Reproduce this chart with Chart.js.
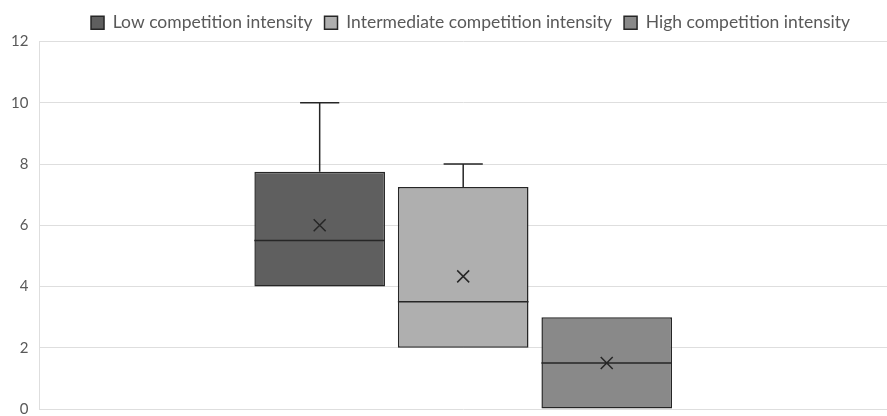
<!DOCTYPE html>
<html>
<head>
<meta charset="UTF-8">
<script src="https://cdn.jsdelivr.net/npm/chart.js@4.4.7/dist/chart.umd.min.js"></script>
<style>
*{margin:0;padding:0;box-sizing:border-box}
html,body{width:887px;height:416px;background:#fff;overflow:hidden}
.wrap{position:relative;width:887px;height:429px}
</style>
</head>
<body>
<div class="wrap"><canvas id="ch"></canvas></div>
<script>
// box plot stats: min, q1, median, q3, max, mean
const seriesNames = ['Low competition intensity', 'Intermediate competition intensity', 'High competition intensity'];
const lowStats = [4, 4, 5.5, 7.75, 10, 6];
const midStats = [2, 2, 3.5, 7.25, 8, 4.33];
const highStats = [0, 0, 1.5, 3, 3, 1.5];
const yTicks = [0, 2, 4, 6, 8, 10, 12];

const allStats = [lowStats, midStats, highStats];
const fills = ['#5f5f5f', '#afafaf', '#898989'];

const boxPlugin = {
  id: 'boxParts',
  afterLayout(chart) {
    // legend sits a little right of centre in the original
    chart.legend.left += 27;
    chart.legend.right += 27;
  },
  afterDatasetsDraw(chart) {
    const ctx = chart.ctx;
    const y = chart.scales.y;
    ctx.save();
    ctx.strokeStyle = '#262626';
    ctx.lineWidth = 1.5;
    chart.data.datasets.forEach(function(ds, i) {
      const bar = chart.getDatasetMeta(i).data[0];
      const p = bar.getProps(['x', 'width'], true);
      const s = allStats[i];
      const cx = p.x, half = p.width / 2, cap = p.width * 0.15;
      ctx.beginPath();
      // upper whisker
      if (s[4] > s[3]) {
        ctx.moveTo(cx, y.getPixelForValue(s[3]));
        ctx.lineTo(cx, y.getPixelForValue(s[4]));
        ctx.moveTo(cx - cap, y.getPixelForValue(s[4]));
        ctx.lineTo(cx + cap, y.getPixelForValue(s[4]));
      }
      // lower whisker
      if (s[0] < s[1]) {
        ctx.moveTo(cx, y.getPixelForValue(s[1]));
        ctx.lineTo(cx, y.getPixelForValue(s[0]));
        ctx.moveTo(cx - cap, y.getPixelForValue(s[0]));
        ctx.lineTo(cx + cap, y.getPixelForValue(s[0]));
      }
      // median
      ctx.moveTo(cx - half, y.getPixelForValue(s[2]));
      ctx.lineTo(cx + half, y.getPixelForValue(s[2]));
      // mean marker
      const my = y.getPixelForValue(s[5]);
      ctx.moveTo(cx - 6, my - 6); ctx.lineTo(cx + 6, my + 6);
      ctx.moveTo(cx + 6, my - 6); ctx.lineTo(cx - 6, my + 6);
      ctx.stroke();
    });
    ctx.restore();
  }
};

new Chart(document.getElementById('ch'), {
  type: 'bar',
  data: {
    labels: [''],
    datasets: allStats.map(function(s, i) {
      return {
        label: seriesNames[i],
        data: [[s[1], s[3]]],
        backgroundColor: fills[i],
        borderColor: '#262626',
        borderWidth: 1.5,
        borderSkipped: false,
        categoryPercentage: 0.508,
        barPercentage: 0.91
      };
    })
  },
  options: {
    responsive: true,
    maintainAspectRatio: false,
    animation: false,
    layout: { padding: { top: 2, right: 0, bottom: 0, left: 0 } },
    plugins: {
      tooltip: { enabled: false },
      legend: {
        position: 'top',
        labels: {
          color: '#595959',
          font: { family: 'Lato', size: 17.5 },
          boxWidth: 13,
          boxHeight: 13,
          padding: 12
        }
      }
    },
    scales: {
      x: { display: false },
      y: {
        min: 0,
        max: 12,
        afterBuildTicks: function(axis) { axis.ticks = yTicks.map(function(v) { return { value: v }; }); },
        ticks: { color: '#595959', font: { family: 'Lato', size: 15 }, padding: 11 },
        grid: { color: '#dedede', drawTicks: false },
        border: { display: true, color: '#dedede' }
      }
    }
  },
  plugins: [boxPlugin]
});
</script>
</body>
</html>
